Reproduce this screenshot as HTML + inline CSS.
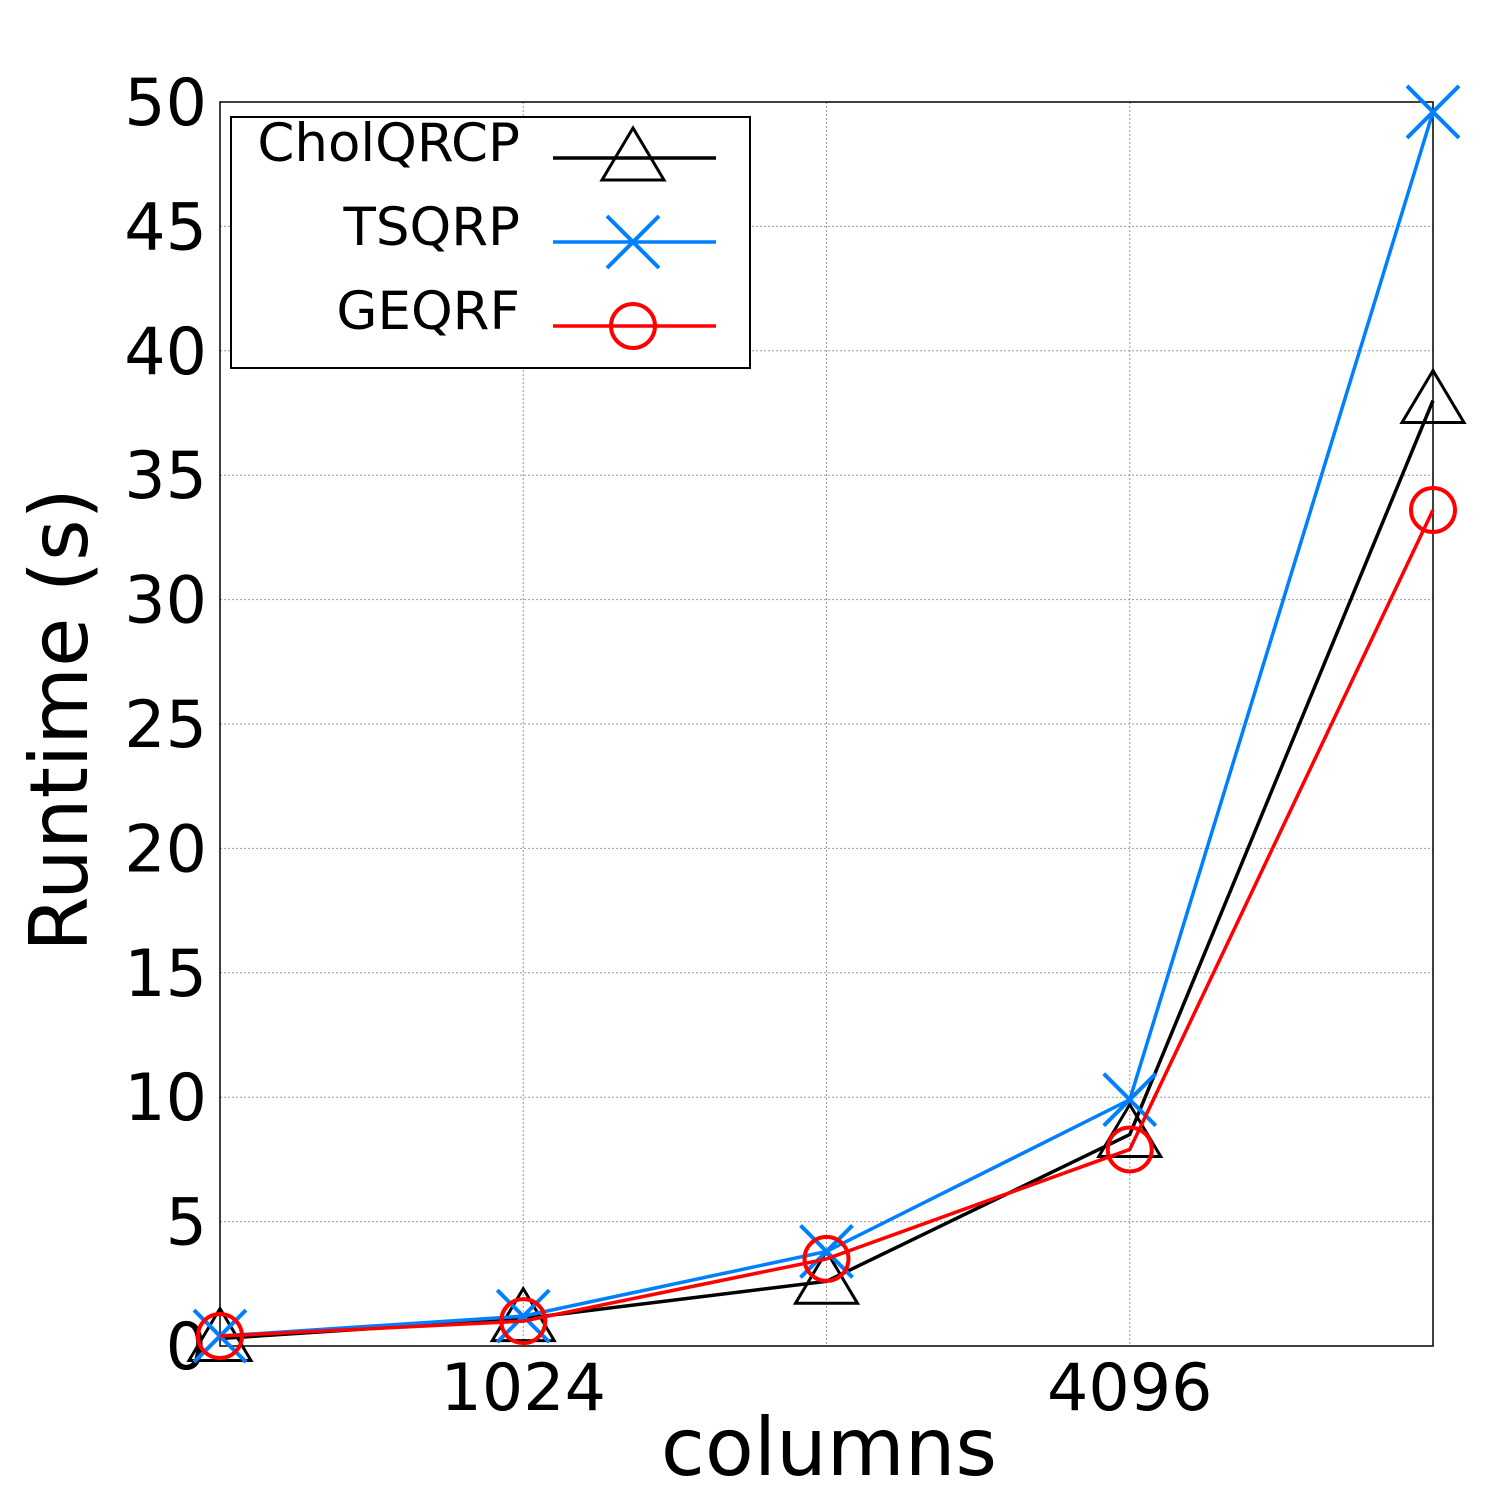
<!DOCTYPE html>
<html><head><meta charset="utf-8"><style>
html,body{margin:0;padding:0;background:#fff;width:1500px;height:1500px;overflow:hidden}
svg{font-family:"DejaVu Sans","Liberation Sans",sans-serif}
</style></head><body>
<svg id="chart" width="1500" height="1500" viewBox="0 0 1500 1500"></svg>
<script>
const categories = [512, 1024, 2048, 4096, 8192];
const tickLabels = ["", "1024", "", "4096", ""];
const yTicks = [0, 5, 10, 15, 20, 25, 30, 35, 40, 45, 50];
const seriesNames = ["CholQRCP", "TSQRP", "GEQRF"];
const cholValues = [0.3, 1.1, 2.6, 8.5, 38.0];
const tsqrValues = [0.4, 1.2, 3.8, 9.9, 49.6];
const geqrfValues = [0.4, 1.0, 3.5, 7.9, 33.6];

const L=220,R=1433,T=102,B=1346;
const svg=document.getElementById('chart');
const NS='http://www.w3.org/2000/svg';
function mk(tag,attrs,parent){const e=document.createElementNS(NS,tag);for(const k in attrs)e.setAttribute(k,attrs[k]);(parent||svg).appendChild(e);return e;}
const xs=i=>L+(R-L)*i/(categories.length-1);
const ys=v=>B-(B-T)*v/50;

yTicks.forEach(v=>{
  const g=mk('line',{x1:L,x2:R,y1:ys(v),y2:ys(v),stroke:'#999','stroke-dasharray':'2,2','stroke-width':1});
  
  
  const t=mk('text',{x:207,y:ys(v)+23,'text-anchor':'end','font-size':65,fill:'#000'});
  t.textContent=v;
  
  
});
categories.forEach((c,i)=>{
  const g=mk('line',{x1:xs(i),x2:xs(i),y1:T,y2:B,stroke:'#999','stroke-dasharray':'2,2','stroke-width':1});
  
  
  if(tickLabels[i]){
    const t=mk('text',{x:xs(i),y:1410,'text-anchor':'middle','font-size':65,fill:'#000'});
    t.textContent=tickLabels[i];
    
    
  }
});
const frame=mk('rect',{x:L,y:T,width:R-L,height:B-T,fill:'none',stroke:'#000','stroke-width':1.5});



function marker(type,x,y,color,parent){
  if(type==='tri') return mk('polygon',{points:`${x},${y-30} ${x-31},${y+22} ${x+31},${y+22}`,fill:'none',stroke:color,'stroke-width':3},parent);
  if(type==='x'){const g=mk('g',{},parent);mk('line',{x1:x-26,y1:y-26,x2:x+26,y2:y+26,stroke:color,'stroke-width':4},g);mk('line',{x1:x-26,y1:y+26,x2:x+26,y2:y-26,stroke:color,'stroke-width':4},g);return g;}
  return mk('circle',{cx:x,cy:y,r:22,fill:'none',stroke:color,'stroke-width':4},parent);
}
const series=[[cholValues,'#000','tri','cholqrcp'],[tsqrValues,'#0080ff','x','tsqrp'],[geqrfValues,'#ff0000','o','geqrf']];
series.forEach(([vals,col,m,nm])=>{
  const g=mk('g',{});
  
  
  const p=mk('polyline',{points:vals.map((v,i)=>xs(i)+','+ys(v)).join(' '),fill:'none',stroke:col,'stroke-width':3.5},g);
  
  
  vals.forEach((v,i)=>{const mm=marker(m,xs(i),ys(v),col,g);
    
    });
});

const xt=mk('text',{x:829,y:1475,'text-anchor':'middle','font-size':80,fill:'#000'});
xt.textContent='columns';


const yt=mk('text',{x:0,y:0,'text-anchor':'middle','font-size':80,fill:'#000',transform:'translate(87,720) rotate(-90)'});
yt.textContent='Runtime (s)';



const lg=mk('g',{});


mk('rect',{x:231,y:117,width:519,height:251,fill:'#fff',stroke:'#000','stroke-width':2},lg);
const ly=[158,242,326];
series.forEach(([vals,col,m,nm],i)=>{
  const e=mk('g',{},lg);
  
  
  const t=mk('text',{x:520,y:ly[i]+3,'text-anchor':'end','font-size':53,fill:'#000'},e);
  t.textContent=seriesNames[i];
  mk('line',{x1:553,x2:716,y1:ly[i],y2:ly[i],stroke:col,'stroke-width':3.5},e);
  marker(m,633,ly[i],col,e);
});
</script>
</body></html>
